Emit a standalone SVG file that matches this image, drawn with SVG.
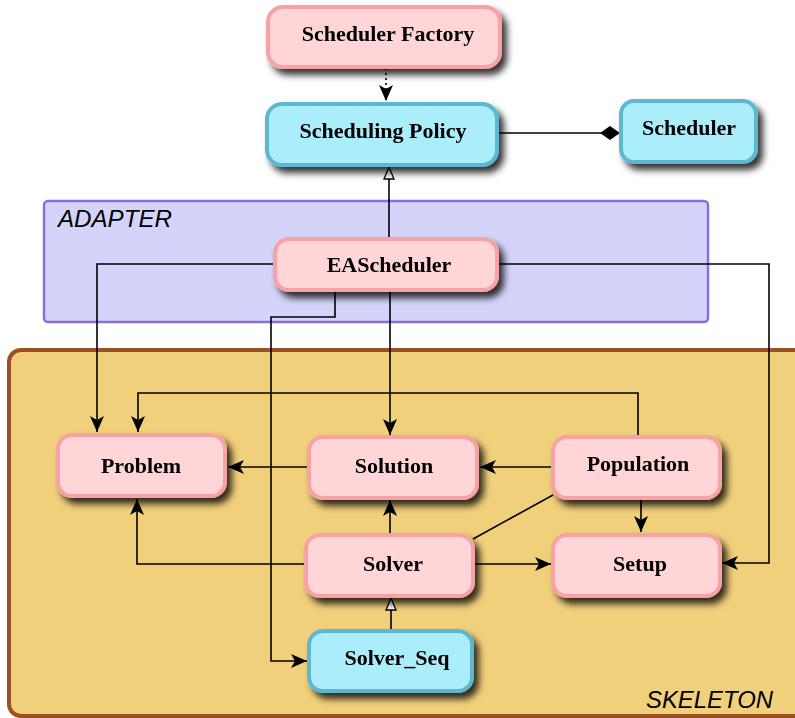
<svg xmlns="http://www.w3.org/2000/svg" width="795" height="718" viewBox="0 0 795 718">
<defs>
<filter id="sh" x="-20%" y="-20%" width="150%" height="160%">
<feDropShadow dx="5" dy="6" stdDeviation="3.5" flood-color="#000" flood-opacity="0.8"/>
</filter>
<marker id="ah" viewBox="0 0 16 14" refX="16" refY="7" markerWidth="16" markerHeight="14" markerUnits="userSpaceOnUse" orient="auto">
<path d="M0,0 L16,7 L0,14 L4,7 Z" fill="#000"/>
</marker>
<marker id="tri" viewBox="0 0 14 12" refX="13" refY="6" markerWidth="14" markerHeight="12" markerUnits="userSpaceOnUse" orient="auto">
<path d="M1,1 L13,6 L1,11 Z" fill="#fff" stroke="#000" stroke-width="1.3"/>
</marker>
<marker id="dia" viewBox="0 0 20 14" refX="20" refY="7" markerWidth="20" markerHeight="14" markerUnits="userSpaceOnUse" orient="auto">
<path d="M0,7 L10,0 L20,7 L10,14 Z" fill="#000"/>
</marker>
</defs>
<style>
.pink{fill:#ffd5d8;stroke:#f7a3a6;stroke-width:4}
.blue{fill:#abedfb;stroke:#5cb8d0;stroke-width:4}
.lbl{font-family:"Liberation Serif",serif;font-weight:bold;font-size:22px;fill:#000;text-anchor:middle}
.grp{font-family:"Liberation Sans",sans-serif;font-style:italic;font-size:23px;fill:#000}
.c{fill:none;stroke:#000;stroke-width:1.6}
</style>
<g id="adapter">
<rect x="44" y="201" width="664" height="121" rx="4" fill="#d4d4fa" stroke="#8a6ee0" stroke-width="2.5"/>
<text class="grp" x="58" y="227" textLength="114" lengthAdjust="spacingAndGlyphs">ADAPTER</text>
</g>
<g id="skeleton">
<rect x="9" y="350" width="800" height="366" rx="12" fill="#f1d07b" stroke="#9a5020" stroke-width="4"/>
<text class="grp" x="646" y="708" textLength="127" lengthAdjust="spacingAndGlyphs">SKELETON</text>
</g>
<g id="connectors">
<path class="c" d="M386,68 V101" stroke-dasharray="2,3" marker-end="url(#ah)"/>
<path class="c" d="M497,133 H620" marker-end="url(#dia)"/>
<path class="c" d="M389,238 V167" marker-end="url(#tri)"/>
<path class="c" d="M275,264 H97 V432" marker-end="url(#ah)"/>
<path class="c" d="M497,264 H769 V563 H722" marker-end="url(#ah)"/>
<path class="c" d="M335,290 V317 H271 V661 H307" marker-end="url(#ah)"/>
<path class="c" d="M390,290 V435" marker-end="url(#ah)"/>
<path class="c" d="M638,437 V393 H138 V432" marker-end="url(#ah)"/>
<path class="c" d="M307,467 H228" marker-end="url(#ah)"/>
<path class="c" d="M552,467 H480" marker-end="url(#ah)"/>
<path class="c" d="M641,498 V532" marker-end="url(#ah)"/>
<path class="c" d="M553,495 L473,539"/>
<path class="c" d="M390,535 V500" marker-end="url(#ah)"/>
<path class="c" d="M306,564 H137 V499" marker-end="url(#ah)"/>
<path class="c" d="M473,564 H551" marker-end="url(#ah)"/>
<path class="c" d="M391,630 V598" marker-end="url(#tri)"/>
</g>
<g id="scheduler-factory" filter="url(#sh)">
<rect class="pink" x="268" y="7" width="232" height="60" rx="15"/>
<text class="lbl" x="388" y="41">Scheduler Factory</text>
</g>
<g id="scheduling-policy" filter="url(#sh)">
<rect class="blue" x="267" y="104" width="230" height="61" rx="15"/>
<text class="lbl" x="383" y="138">Scheduling Policy</text>
</g>
<g id="scheduler" filter="url(#sh)">
<rect class="blue" x="621" y="101" width="135" height="61" rx="13"/>
<text class="lbl" x="689" y="135">Scheduler</text>
</g>
<g id="eascheduler" filter="url(#sh)">
<rect class="pink" x="275" y="239" width="222" height="51" rx="14"/>
<text class="lbl" x="389" y="272">EAScheduler</text>
</g>
<g id="problem" filter="url(#sh)">
<rect class="pink" x="58" y="435" width="167" height="61" rx="14"/>
<text class="lbl" x="141" y="473">Problem</text>
</g>
<g id="solution" filter="url(#sh)">
<rect class="pink" x="309" y="437" width="168" height="61" rx="14"/>
<text class="lbl" x="394" y="473">Solution</text>
</g>
<g id="population" filter="url(#sh)">
<rect class="pink" x="553" y="437" width="167" height="61" rx="14"/>
<text class="lbl" x="638" y="471">Population</text>
</g>
<g id="solver" filter="url(#sh)">
<rect class="pink" x="306" y="535" width="167" height="61" rx="14"/>
<text class="lbl" x="393" y="571">Solver</text>
</g>
<g id="setup" filter="url(#sh)">
<rect class="pink" x="553" y="535" width="167" height="61" rx="14"/>
<text class="lbl" x="640" y="571">Setup</text>
</g>
<g id="solver-seq" filter="url(#sh)">
<rect class="blue" x="309" y="631" width="163" height="60" rx="14"/>
<text class="lbl" x="397" y="665">Solver_Seq</text>
</g>
</svg>
